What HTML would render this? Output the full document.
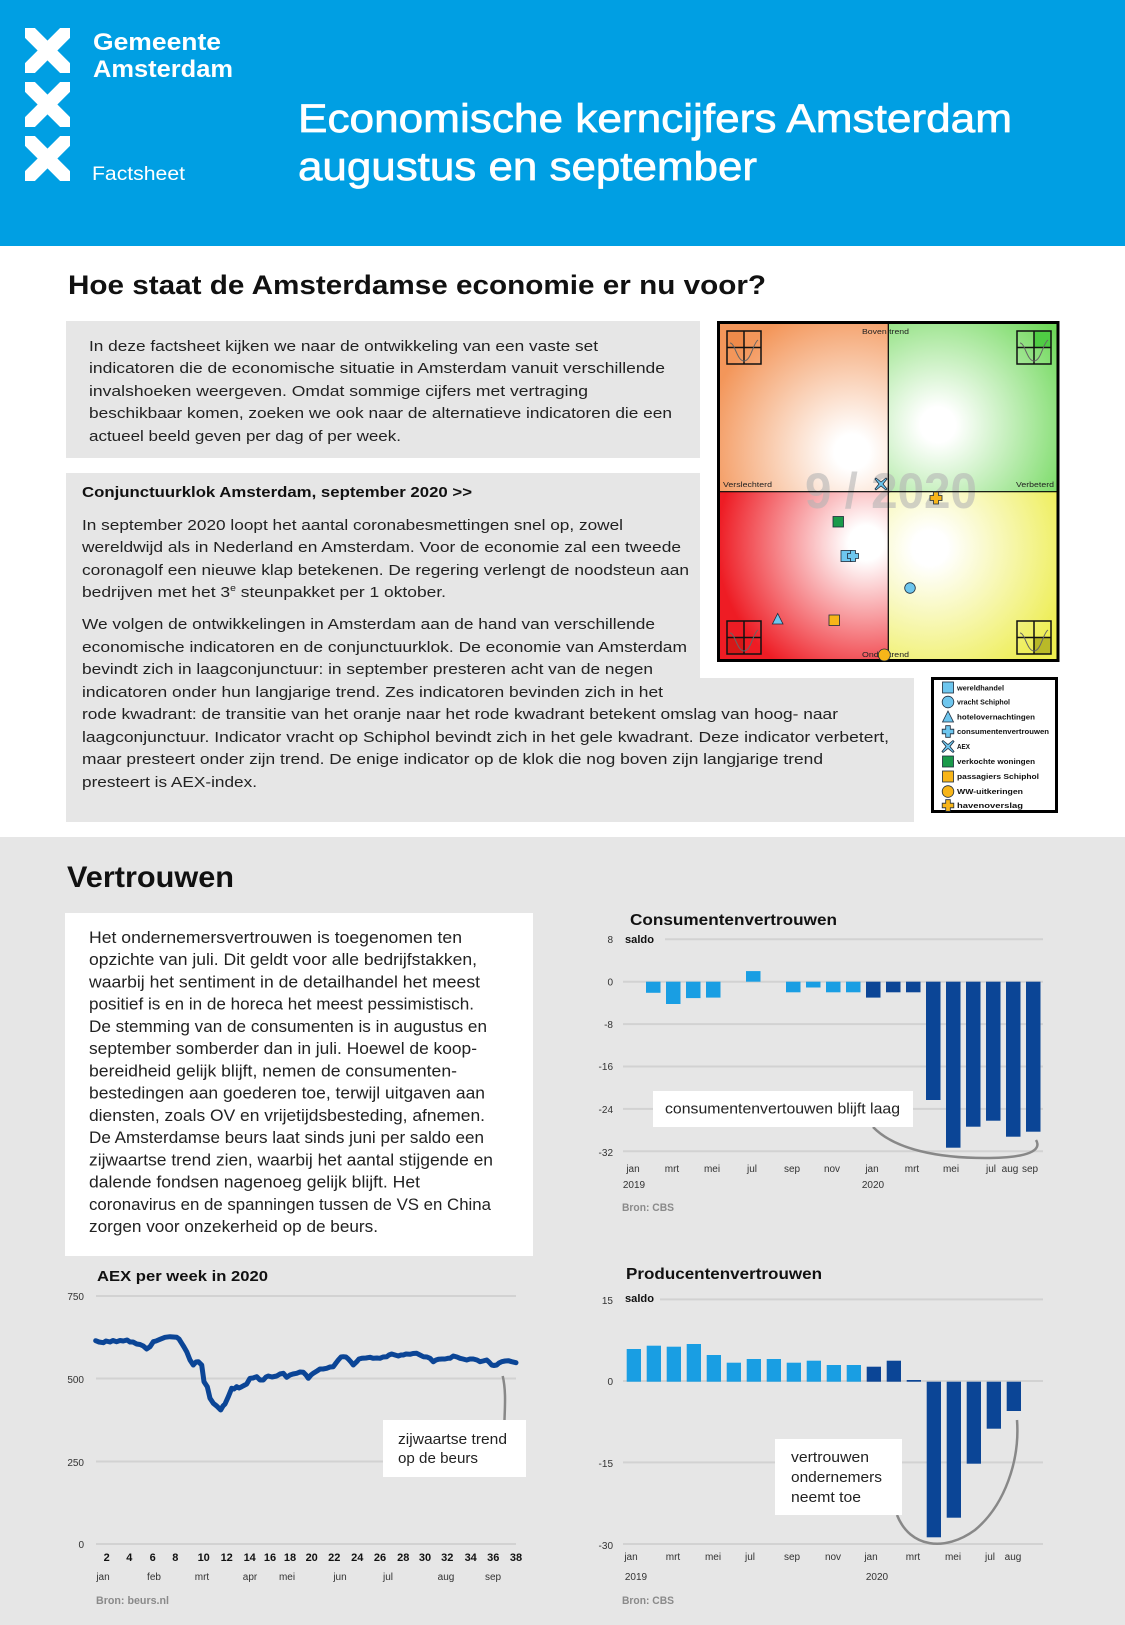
<!DOCTYPE html>
<html><head><meta charset="utf-8"><style>
html,body{margin:0;padding:0;background:#fff;}
svg{display:block;}
text{font-family:"Liberation Sans",Arial,sans-serif;}
</style></head><body>
<svg width="1125" height="1625" viewBox="0 0 1125 1625" xmlns="http://www.w3.org/2000/svg">
<defs>
<radialGradient id="gTL" gradientUnits="userSpaceOnUse" cx="852" cy="452" r="175"><stop offset="0.1" stop-color="#fff"/><stop offset="0.85" stop-color="#f3965a"/></radialGradient>
<radialGradient id="gTR" gradientUnits="userSpaceOnUse" cx="938" cy="425" r="175"><stop offset="0.1" stop-color="#fff"/><stop offset="0.85" stop-color="#6fd85a"/></radialGradient>
<radialGradient id="gBL" gradientUnits="userSpaceOnUse" cx="866" cy="543" r="175"><stop offset="0.1" stop-color="#fff"/><stop offset="0.85" stop-color="#ee1c24"/></radialGradient>
<radialGradient id="gBR" gradientUnits="userSpaceOnUse" cx="930" cy="548" r="175"><stop offset="0.1" stop-color="#fff"/><stop offset="0.85" stop-color="#eded50"/></radialGradient>
<clipPath id="cx1"><rect x="25" y="28" width="45" height="45"/></clipPath>
<clipPath id="cx2"><rect x="25" y="82" width="45" height="45"/></clipPath>
<clipPath id="cx3"><rect x="25" y="136" width="45" height="45"/></clipPath>
</defs>

<!-- Header -->
<rect x="0" y="0" width="1125" height="246" fill="#009fe3"/>
<g fill="#fff">
<g clip-path="url(#cx1)">
<rect x="-35" y="-7" width="70" height="14" transform="translate(47.5,50.5) rotate(45)"/>
<rect x="-35" y="-7" width="70" height="14" transform="translate(47.5,50.5) rotate(-45)"/>
</g>
<g clip-path="url(#cx2)">
<rect x="-35" y="-7" width="70" height="14" transform="translate(47.5,104.5) rotate(45)"/>
<rect x="-35" y="-7" width="70" height="14" transform="translate(47.5,104.5) rotate(-45)"/>
</g>
<g clip-path="url(#cx3)">
<rect x="-35" y="-7" width="70" height="14" transform="translate(47.5,158.5) rotate(45)"/>
<rect x="-35" y="-7" width="70" height="14" transform="translate(47.5,158.5) rotate(-45)"/>
</g>
</g>
<g fill="#fff">
<text x="93" y="50" font-size="24" font-weight="bold" textLength="128" lengthAdjust="spacingAndGlyphs">Gemeente</text>
<text x="93" y="77" font-size="24" font-weight="bold" textLength="140" lengthAdjust="spacingAndGlyphs">Amsterdam</text>
<text x="92" y="180" font-size="19" textLength="93" lengthAdjust="spacingAndGlyphs">Factsheet</text>
<text x="298" y="132" font-size="40" stroke="#fff" stroke-width="0.7" textLength="714" lengthAdjust="spacingAndGlyphs">Economische kerncijfers Amsterdam</text>
<text x="298" y="180" font-size="40" stroke="#fff" stroke-width="0.7" textLength="459" lengthAdjust="spacingAndGlyphs">augustus en september</text>
</g>

<text x="68" y="294" font-size="27" font-weight="bold" fill="#111" textLength="698" lengthAdjust="spacingAndGlyphs">Hoe staat de Amsterdamse economie er nu voor?</text>

<!-- Box 1 -->
<rect x="66" y="321" width="634" height="137" fill="#e6e6e6"/>
<g font-size="15" fill="#222">
<text x="89" y="351" textLength="509" lengthAdjust="spacingAndGlyphs">In deze factsheet kijken we naar de ontwikkeling van een vaste set</text>
<text x="89" y="373" textLength="576" lengthAdjust="spacingAndGlyphs">indicatoren die de economische situatie in Amsterdam vanuit verschillende</text>
<text x="89" y="396" textLength="499" lengthAdjust="spacingAndGlyphs">invalshoeken weergeven. Omdat sommige cijfers met vertraging</text>
<text x="89" y="418" textLength="583" lengthAdjust="spacingAndGlyphs">beschikbaar komen, zoeken we ook naar de alternatieve indicatoren die een</text>
<text x="89" y="441" textLength="312" lengthAdjust="spacingAndGlyphs">actueel beeld geven per dag of per week.</text>
</g>

<!-- Box 2 -->
<rect x="66" y="473" width="848" height="349" fill="#e6e6e6"/>
<rect x="700" y="473" width="214" height="205" fill="#fff"/>
<text x="82" y="497" font-size="15" font-weight="bold" fill="#111" textLength="390" lengthAdjust="spacingAndGlyphs">Conjunctuurklok Amsterdam, september 2020 &gt;&gt;</text>
<g font-size="15" fill="#222">
<text x="82" y="530" textLength="541" lengthAdjust="spacingAndGlyphs">In september 2020 loopt het aantal coronabesmettingen snel op, zowel</text>
<text x="82" y="552" textLength="599" lengthAdjust="spacingAndGlyphs">wereldwijd als in Nederland en Amsterdam. Voor de economie zal een tweede</text>
<text x="82" y="575" textLength="607" lengthAdjust="spacingAndGlyphs">coronagolf een nieuwe klap betekenen. De regering verlengt de noodsteun aan</text>
<text x="82" y="597" textLength="364" lengthAdjust="spacingAndGlyphs">bedrijven met het 3<tspan font-size="9" dy="-6">e</tspan><tspan dy="6"> steunpakket per 1 oktober.</tspan></text>
<text x="82" y="629" textLength="573" lengthAdjust="spacingAndGlyphs">We volgen de ontwikkelingen in Amsterdam aan de hand van verschillende</text>
<text x="82" y="652" textLength="605" lengthAdjust="spacingAndGlyphs">economische indicatoren en de conjunctuurklok. De economie van Amsterdam</text>
<text x="82" y="674" textLength="571" lengthAdjust="spacingAndGlyphs">bevindt zich in laagconjunctuur: in september presteren acht van de negen</text>
<text x="82" y="697" textLength="581" lengthAdjust="spacingAndGlyphs">indicatoren onder hun langjarige trend. Zes indicatoren bevinden zich in het</text>
<text x="82" y="719" textLength="756" lengthAdjust="spacingAndGlyphs">rode kwadrant: de transitie van het oranje naar het rode kwadrant betekent omslag van hoog- naar</text>
<text x="82" y="742" textLength="807" lengthAdjust="spacingAndGlyphs">laagconjunctuur. Indicator vracht op Schiphol bevindt zich in het gele kwadrant. Deze indicator verbetert,</text>
<text x="82" y="764" textLength="741" lengthAdjust="spacingAndGlyphs">maar presteert onder zijn trend. De enige indicator op de klok die nog boven zijn langjarige trend</text>
<text x="82" y="787" textLength="175" lengthAdjust="spacingAndGlyphs">presteert is AEX-index.</text>
</g>

<!-- Clock -->
<rect x="718.5" y="322.5" width="170" height="170" fill="url(#gTL)"/>
<rect x="888.5" y="322.5" width="170" height="170" fill="url(#gTR)"/>
<rect x="718.5" y="492" width="170" height="169" fill="url(#gBL)"/>
<rect x="888.5" y="492" width="170" height="169" fill="url(#gBR)"/>
<text x="891" y="508" font-size="50" font-weight="bold" fill="#b4b4b4" fill-opacity="0.6" text-anchor="middle" textLength="172" lengthAdjust="spacingAndGlyphs">9 / 2020</text>
<line x1="888.3" y1="322" x2="888.3" y2="661" stroke="#000" stroke-width="1.2"/>
<line x1="718" y1="491.7" x2="1059" y2="491.7" stroke="#000" stroke-width="1.2"/>
<rect x="718.5" y="322.5" width="339.5" height="338" fill="none" stroke="#000" stroke-width="3"/>
<g font-size="7.5" fill="#222">
<text x="862" y="334" textLength="47" lengthAdjust="spacingAndGlyphs">Boven trend</text>
<text x="862" y="657" textLength="47" lengthAdjust="spacingAndGlyphs">Onder trend</text>
<text x="723" y="487" textLength="49" lengthAdjust="spacingAndGlyphs">Verslechterd</text>
<text x="1016" y="487" textLength="38" lengthAdjust="spacingAndGlyphs">Verbeterd</text>
</g>
<!-- corner icons -->
<g stroke="#111" stroke-width="1.5" fill="none">
<rect x="727" y="331" width="17" height="16.5" fill="#ee8a4a" stroke="none"/>
<rect x="727" y="331" width="34" height="33"/><line x1="744" y1="331" x2="744" y2="364"/><line x1="727" y1="347.5" x2="761" y2="347.5"/>
<rect x="1034" y="331" width="17" height="16.5" fill="#4fcc44" stroke="none"/>
<rect x="1017" y="331" width="34" height="33"/><line x1="1034" y1="331" x2="1034" y2="364"/><line x1="1017" y1="347.5" x2="1051" y2="347.5"/>
<rect x="727" y="637.5" width="17" height="16.5" fill="#d61818" stroke="none"/>
<rect x="727" y="621" width="34" height="33"/><line x1="744" y1="621" x2="744" y2="654"/><line x1="727" y1="637.5" x2="761" y2="637.5"/>
<rect x="1034" y="637.5" width="17" height="16.5" fill="#b9b928" stroke="none"/>
<rect x="1017" y="621" width="34" height="33"/><line x1="1034" y1="621" x2="1034" y2="654"/><line x1="1017" y1="637.5" x2="1051" y2="637.5"/>
</g>
<g stroke="#666" stroke-width="1" fill="none">
<path d="M730,343 C735,343 737,361 744,361 C751,361 753,343 758,340"/>
<path d="M1020,343 C1025,343 1027,361 1034,361 C1041,361 1043,343 1048,340"/>
<path d="M730,633 C735,633 737,651 744,651 C751,651 753,633 758,630"/>
<path d="M1020,633 C1025,633 1027,651 1034,651 C1041,651 1043,633 1048,630"/>
</g>
<!-- markers -->
<g stroke="#1c2a3a" stroke-width="0.8">
<path transform="translate(881,484)" fill="#6ec6ee" d="M-5,-6 L0,-2 L5,-6 L6,-5 L2,0 L6,5 L5,6 L0,2 L-5,6 L-6,5 L-2,0 L-6,-5 Z"/>
<path transform="translate(936,498)" fill="#f7b519" d="M-2.5,-6 L2.5,-6 L2.5,-2.5 L6,-2.5 L6,2.5 L2.5,2.5 L2.5,6 L-2.5,6 L-2.5,2.5 L-6,2.5 L-6,-2.5 L-2.5,-2.5 Z"/>
<rect x="833" y="516.5" width="10.5" height="10.5" fill="#1a9a4a"/>
<rect x="841" y="550.5" width="11" height="11" fill="#6ec6ee"/>
<path transform="translate(853,556)" fill="#6ec6ee" d="M-2.5,-5.5 L2.5,-5.5 L2.5,-2.5 L5.5,-2.5 L5.5,2.5 L2.5,2.5 L2.5,5.5 L-2.5,5.5 L-2.5,2.5 L-5.5,2.5 L-5.5,-2.5 L-2.5,-2.5 Z"/>
<circle cx="910" cy="588" r="5.3" fill="#6ec6ee"/>
<polygon points="777.7,613.5 783,624 772.4,624" fill="#6ec6ee"/>
<rect x="829" y="615" width="10.5" height="10.5" fill="#f7b519"/>
<circle cx="884.3" cy="655" r="6" fill="#f7b519"/>
</g>

<!-- Legend -->
<rect x="932.5" y="678.5" width="124" height="133" fill="#fff" stroke="#000" stroke-width="3"/>
<g stroke="#1c2a3a" stroke-width="0.8">
<rect x="942.5" y="682" width="11" height="11" fill="#6ec6ee"/>
<circle cx="948" cy="702" r="5.8" fill="#6ec6ee"/>
<polygon points="948,711 953.5,722 942.5,722" fill="#6ec6ee"/>
<path transform="translate(948,731.5)" fill="#6ec6ee" d="M-2.3,-5.8 L2.3,-5.8 L2.3,-2.3 L5.8,-2.3 L5.8,2.3 L2.3,2.3 L2.3,5.8 L-2.3,5.8 L-2.3,2.3 L-5.8,2.3 L-5.8,-2.3 L-2.3,-2.3 Z"/>
<path transform="translate(948,746.5)" fill="#6ec6ee" d="M-5,-6 L0,-2 L5,-6 L6,-5 L2,0 L6,5 L5,6 L0,2 L-5,6 L-6,5 L-2,0 L-6,-5 Z"/>
<rect x="942.5" y="756" width="11" height="11" fill="#1a9a4a"/>
<rect x="942.5" y="771" width="11" height="11" fill="#f7b519"/>
<circle cx="948" cy="791.5" r="5.8" fill="#f7b519"/>
<path transform="translate(948,805.5)" fill="#f7b519" d="M-2.3,-5.8 L2.3,-5.8 L2.3,-2.3 L5.8,-2.3 L5.8,2.3 L2.3,2.3 L2.3,5.8 L-2.3,5.8 L-2.3,2.3 L-5.8,2.3 L-5.8,-2.3 L-2.3,-2.3 Z"/>
</g>
<g font-size="7" font-weight="bold" fill="#111">
<text x="957" y="690.5" textLength="47" lengthAdjust="spacingAndGlyphs">wereldhandel</text>
<text x="957" y="704.5" textLength="53" lengthAdjust="spacingAndGlyphs">vracht Schiphol</text>
<text x="957" y="719.5" textLength="78" lengthAdjust="spacingAndGlyphs">hotelovernachtingen</text>
<text x="957" y="734" textLength="92" lengthAdjust="spacingAndGlyphs">consumentenvertrouwen</text>
<text x="957" y="749" textLength="13" lengthAdjust="spacingAndGlyphs">AEX</text>
<text x="957" y="764" textLength="78" lengthAdjust="spacingAndGlyphs">verkochte woningen</text>
<text x="957" y="779" textLength="82" lengthAdjust="spacingAndGlyphs">passagiers Schiphol</text>
<text x="957" y="794" textLength="66" lengthAdjust="spacingAndGlyphs">WW-uitkeringen</text>
<text x="957" y="808" textLength="66" lengthAdjust="spacingAndGlyphs">havenoverslag</text>
</g>

<!-- Lower section -->
<rect x="0" y="837" width="1125" height="788" fill="#e6e6e6"/>
<text x="67" y="887" font-size="30" font-weight="bold" fill="#111" textLength="167" lengthAdjust="spacingAndGlyphs">Vertrouwen</text>

<rect x="65" y="913" width="468" height="343" fill="#fff"/>
<g font-size="17" fill="#222">
<text x="89" y="943" textLength="373" lengthAdjust="spacingAndGlyphs">Het ondernemersvertrouwen is toegenomen ten</text>
<text x="89" y="965.2" textLength="388" lengthAdjust="spacingAndGlyphs">opzichte van juli. Dit geldt voor alle bedrijfstakken,</text>
<text x="89" y="987.5" textLength="391" lengthAdjust="spacingAndGlyphs">waarbij het sentiment in de detailhandel het meest</text>
<text x="89" y="1009.7" textLength="385" lengthAdjust="spacingAndGlyphs">positief is en in de horeca het meest pessimistisch.</text>
<text x="89" y="1031.9" textLength="398" lengthAdjust="spacingAndGlyphs">De stemming van de consumenten is in augustus en</text>
<text x="89" y="1054.2" textLength="388" lengthAdjust="spacingAndGlyphs">september somberder dan in juli. Hoewel de koop-</text>
<text x="89" y="1076.4" textLength="368" lengthAdjust="spacingAndGlyphs">bereidheid gelijk blijft, nemen de consumenten-</text>
<text x="89" y="1098.6" textLength="396" lengthAdjust="spacingAndGlyphs">bestedingen aan goederen toe, terwijl uitgaven aan</text>
<text x="89" y="1120.8" textLength="396" lengthAdjust="spacingAndGlyphs">diensten, zoals OV en vrijetijdsbesteding, afnemen.</text>
<text x="89" y="1143.1" textLength="395" lengthAdjust="spacingAndGlyphs">De Amsterdamse beurs laat sinds juni per saldo een</text>
<text x="89" y="1165.3" textLength="404" lengthAdjust="spacingAndGlyphs">zijwaartse trend zien, waarbij het aantal stijgende en</text>
<text x="89" y="1187.5" textLength="331" lengthAdjust="spacingAndGlyphs">dalende fondsen nagenoeg gelijk blijft. Het</text>
<text x="89" y="1209.8" textLength="402" lengthAdjust="spacingAndGlyphs">coronavirus en de spanningen tussen de VS en China</text>
<text x="89" y="1232" textLength="289" lengthAdjust="spacingAndGlyphs">zorgen voor onzekerheid op de beurs.</text>
</g>

<!-- Consumentenvertrouwen -->
<text x="630" y="925" font-size="16" font-weight="bold" fill="#111" textLength="207" lengthAdjust="spacingAndGlyphs">Consumentenvertrouwen</text>
<text x="625" y="943" font-size="11" font-weight="bold" fill="#111" textLength="29" lengthAdjust="spacingAndGlyphs">saldo</text>
<g stroke="#d2d2d2" stroke-width="2">
<line x1="665" y1="939.3" x2="1043" y2="939.3"/>
<line x1="623" y1="981.7" x2="1043" y2="981.7"/>
<line x1="623" y1="1024.1" x2="1043" y2="1024.1"/>
<line x1="623" y1="1066.5" x2="1043" y2="1066.5"/>
<line x1="623" y1="1108.9" x2="1043" y2="1108.9"/>
<line x1="623" y1="1151.3" x2="1043" y2="1151.3"/>
</g>
<g font-size="10" fill="#333" text-anchor="end">
<text x="613" y="943">8</text>
<text x="613" y="985.5">0</text>
<text x="613" y="1028">-8</text>
<text x="613" y="1070">-16</text>
<text x="613" y="1113">-24</text>
<text x="613" y="1156">-32</text>
</g>
<g fill="#199ee3">
<rect x="646" y="981.7" width="14.5" height="11.1"/>
<rect x="666" y="981.7" width="14.5" height="22.3"/>
<rect x="686" y="981.7" width="14.5" height="16.4"/>
<rect x="706" y="981.7" width="14.5" height="15.9"/>
<rect x="746" y="971.1" width="14.5" height="10.6"/>
<rect x="786" y="981.7" width="14.5" height="10.6"/>
<rect x="806" y="981.7" width="14.5" height="5.8"/>
<rect x="826" y="981.7" width="14.5" height="10.6"/>
<rect x="846" y="981.7" width="14.5" height="10.6"/>
</g>
<g fill="#0b4596">
<rect x="866" y="981.7" width="14.5" height="15.9"/>
<rect x="886" y="981.7" width="14.5" height="10.6"/>
<rect x="906" y="981.7" width="14.5" height="10.6"/>
<rect x="926" y="981.7" width="14.5" height="118.3"/>
<rect x="946" y="981.7" width="14.5" height="166"/>
<rect x="966" y="981.7" width="14.5" height="145"/>
<rect x="986" y="981.7" width="14.5" height="139"/>
<rect x="1006" y="981.7" width="14.5" height="155"/>
<rect x="1026" y="981.7" width="14.5" height="150"/>
</g>
<path d="M873,1127 C895,1150 940,1158 985,1158 C1030,1158 1042,1150 1036,1140" fill="none" stroke="#888" stroke-width="2.5"/>
<rect x="653" y="1091" width="260" height="36" fill="#fff"/>
<text x="665" y="1113.3" font-size="15" fill="#222" textLength="235" lengthAdjust="spacingAndGlyphs">consumentenvertouwen blijft laag</text>
<g font-size="10" fill="#333" text-anchor="middle">
<text x="633" y="1172">jan</text><text x="672" y="1172">mrt</text><text x="712" y="1172">mei</text><text x="752" y="1172">jul</text>
<text x="792" y="1172">sep</text><text x="832" y="1172">nov</text><text x="872" y="1172">jan</text><text x="912" y="1172">mrt</text>
<text x="951" y="1172">mei</text><text x="991" y="1172">jul</text><text x="1010" y="1172">aug</text><text x="1030" y="1172">sep</text>
<text x="634" y="1188">2019</text><text x="873" y="1188">2020</text>
</g>
<text x="622" y="1211" font-size="11" font-weight="bold" fill="#8a8a8a" textLength="52" lengthAdjust="spacingAndGlyphs">Bron: CBS</text>

<!-- AEX -->
<text x="97" y="1281" font-size="15" font-weight="bold" fill="#111" textLength="171" lengthAdjust="spacingAndGlyphs">AEX per week in 2020</text>
<g stroke="#d2d2d2" stroke-width="2">
<line x1="96" y1="1296" x2="516" y2="1296"/>
<line x1="96" y1="1378.5" x2="516" y2="1378.5"/>
<line x1="96" y1="1461.5" x2="516" y2="1461.5"/>
<line x1="96" y1="1544" x2="516" y2="1544"/>
</g>
<g font-size="10" fill="#333" text-anchor="end">
<text x="84" y="1300">750</text><text x="84" y="1383">500</text><text x="84" y="1466">250</text><text x="84" y="1548">0</text>
</g>
<polyline fill="none" stroke="#0b4596" stroke-width="5" stroke-linejoin="round" stroke-linecap="round" points="95.7,1340.7 99,1342 103.3,1342.7 106,1341 110,1342 113,1340.5 116.7,1341.7 120,1340.5 123.3,1341 127,1340 130,1342 133,1342 136.7,1344 140,1344.5 143.3,1346 146.7,1349 150,1346.7 153.3,1341.7 156,1341 160,1339.3 165,1337.3 170,1336.7 176.7,1337.3 179,1339 181.7,1343.3 184,1347 186.7,1351.7 190,1360 193.3,1365 196,1362 198.3,1361.7 201.7,1365 204,1381.7 207.3,1386.7 210,1398.3 213.3,1403.3 216.7,1406 220.7,1410 223,1406 225,1404 228.3,1396.7 231.7,1388.3 234,1389 236.7,1386.7 239,1388 241.7,1386.7 246.7,1384 250,1378.3 253,1378 256.7,1376.7 260,1380 263.3,1380 266,1377 268.3,1376 272,1377 276.7,1376 280,1374 283.3,1373.3 286.7,1377.3 290,1375 293,1374 296.7,1373.3 300,1372 303.3,1372.3 306,1375 308.3,1378.3 311,1375 313.3,1373.3 317,1371 320,1369 323,1369 326.7,1368.3 330,1367 333.3,1366.7 336,1363 338.3,1360 341,1357 343.3,1356.7 346,1357 348.3,1359 351,1362 353.3,1365 356.7,1361.7 359,1359 361.7,1358.3 366,1358 370,1357.3 373.3,1358.3 377,1358 380,1358.3 383,1357 386.7,1356.7 389,1355 391.7,1354 395,1355 398.3,1356 401,1355 403.3,1355 406,1354 410,1354.3 413,1353.5 416.7,1353.3 420,1355 423.3,1356.7 427,1357 430,1358.3 433.3,1361.7 436,1360 438.3,1359.3 442,1359 445,1359 448,1358.3 450,1358.3 453.3,1356 457,1357 460,1358.3 463,1359 466.7,1360 470,1359 473.3,1359 477,1360 480,1361.7 483,1361 486.7,1360 489,1362 491.7,1365 494,1365.5 496.7,1365 499,1363 501.7,1361.7 505,1361 508.3,1360.7 511.7,1361.7 516,1362.7"/>
<path d="M502.7,1376 C506,1390 505,1405 504.5,1420" fill="none" stroke="#888" stroke-width="2.5"/>
<rect x="383" y="1420" width="143" height="57" fill="#fff"/>
<text x="398" y="1444" font-size="15" fill="#222" textLength="109" lengthAdjust="spacingAndGlyphs">zijwaartse trend</text>
<text x="398" y="1463" font-size="15" fill="#222" textLength="80" lengthAdjust="spacingAndGlyphs">op de beurs</text>
<g font-size="11" font-weight="bold" fill="#111" text-anchor="middle">
<text x="106.7" y="1561">2</text><text x="129.3" y="1561">4</text><text x="152.7" y="1561">6</text><text x="175.3" y="1561">8</text>
<text x="203.7" y="1561">10</text><text x="226.7" y="1561">12</text><text x="249.7" y="1561">14</text><text x="270" y="1561">16</text>
<text x="290" y="1561">18</text><text x="311.7" y="1561">20</text><text x="334.3" y="1561">22</text><text x="357.3" y="1561">24</text>
<text x="380" y="1561">26</text><text x="403.3" y="1561">28</text><text x="425" y="1561">30</text><text x="447.3" y="1561">32</text>
<text x="470.7" y="1561">34</text><text x="493.3" y="1561">36</text><text x="516" y="1561">38</text>
</g>
<g font-size="10" fill="#333" text-anchor="middle">
<text x="103" y="1580">jan</text><text x="154" y="1580">feb</text><text x="202" y="1580">mrt</text><text x="250" y="1580">apr</text>
<text x="287" y="1580">mei</text><text x="340" y="1580">jun</text><text x="388" y="1580">jul</text><text x="446" y="1580">aug</text><text x="493" y="1580">sep</text>
</g>
<text x="96" y="1604" font-size="11" font-weight="bold" fill="#8a8a8a" textLength="73" lengthAdjust="spacingAndGlyphs">Bron: beurs.nl</text>

<!-- Producentenvertrouwen -->
<text x="626" y="1279" font-size="16" font-weight="bold" fill="#111" textLength="196" lengthAdjust="spacingAndGlyphs">Producentenvertrouwen</text>
<text x="625" y="1302" font-size="11" font-weight="bold" fill="#111" textLength="29" lengthAdjust="spacingAndGlyphs">saldo</text>
<g stroke="#d2d2d2" stroke-width="2">
<line x1="660" y1="1299.4" x2="1043" y2="1299.4"/>
<line x1="623" y1="1381" x2="1043" y2="1381"/>
<line x1="623" y1="1462.4" x2="1043" y2="1462.4"/>
<line x1="623" y1="1544" x2="1043" y2="1544"/>
</g>
<g font-size="10" fill="#333" text-anchor="end">
<text x="613" y="1304">15</text><text x="613" y="1385">0</text><text x="613" y="1467">-15</text><text x="613" y="1549">-30</text>
</g>
<g fill="#199ee3">
<rect x="626.7" y="1349" width="14.3" height="32.7"/>
<rect x="646.7" y="1345.7" width="14.3" height="36"/>
<rect x="666.7" y="1346.7" width="14.3" height="35"/>
<rect x="686.7" y="1344" width="14.3" height="37.7"/>
<rect x="706.7" y="1355" width="14.3" height="26.7"/>
<rect x="726.7" y="1362.7" width="14.3" height="19"/>
<rect x="746.7" y="1359" width="14.3" height="22.7"/>
<rect x="766.7" y="1359" width="14.3" height="22.7"/>
<rect x="786.7" y="1362.7" width="14.3" height="19"/>
<rect x="806.7" y="1360.7" width="14.3" height="21"/>
<rect x="826.7" y="1365" width="14.3" height="16.7"/>
<rect x="846.7" y="1365" width="14.3" height="16.7"/>
</g>
<g fill="#0b4596">
<rect x="866.7" y="1366.7" width="14.3" height="15"/>
<rect x="886.7" y="1360.7" width="14.3" height="21"/>
<rect x="906.7" y="1380" width="14.3" height="1.7"/>
<rect x="926.7" y="1381.7" width="14.3" height="155.6"/>
<rect x="946.7" y="1381.7" width="14.3" height="136"/>
<rect x="966.7" y="1381.7" width="14.3" height="82"/>
<rect x="986.7" y="1381.7" width="14.3" height="47"/>
<rect x="1006.7" y="1381.7" width="14.3" height="29.3"/>
</g>
<path d="M897,1515 C910,1548 945,1552 975,1530 C1005,1505 1020,1460 1017,1420" fill="none" stroke="#888" stroke-width="2.5"/>
<rect x="775" y="1439" width="127" height="76" fill="#fff"/>
<text x="791" y="1462" font-size="15" fill="#222" textLength="78" lengthAdjust="spacingAndGlyphs">vertrouwen</text>
<text x="791" y="1482" font-size="15" fill="#222" textLength="91" lengthAdjust="spacingAndGlyphs">ondernemers</text>
<text x="791" y="1502" font-size="15" fill="#222" textLength="70" lengthAdjust="spacingAndGlyphs">neemt toe</text>
<g font-size="10" fill="#333" text-anchor="middle">
<text x="631" y="1560">jan</text><text x="673" y="1560">mrt</text><text x="713" y="1560">mei</text><text x="750" y="1560">jul</text>
<text x="792" y="1560">sep</text><text x="833" y="1560">nov</text><text x="871" y="1560">jan</text><text x="913" y="1560">mrt</text>
<text x="953" y="1560">mei</text><text x="990" y="1560">jul</text><text x="1013" y="1560">aug</text>
<text x="636" y="1580">2019</text><text x="877" y="1580">2020</text>
</g>
<text x="622" y="1604" font-size="11" font-weight="bold" fill="#8a8a8a" textLength="52" lengthAdjust="spacingAndGlyphs">Bron: CBS</text>
</svg>
</body></html>
